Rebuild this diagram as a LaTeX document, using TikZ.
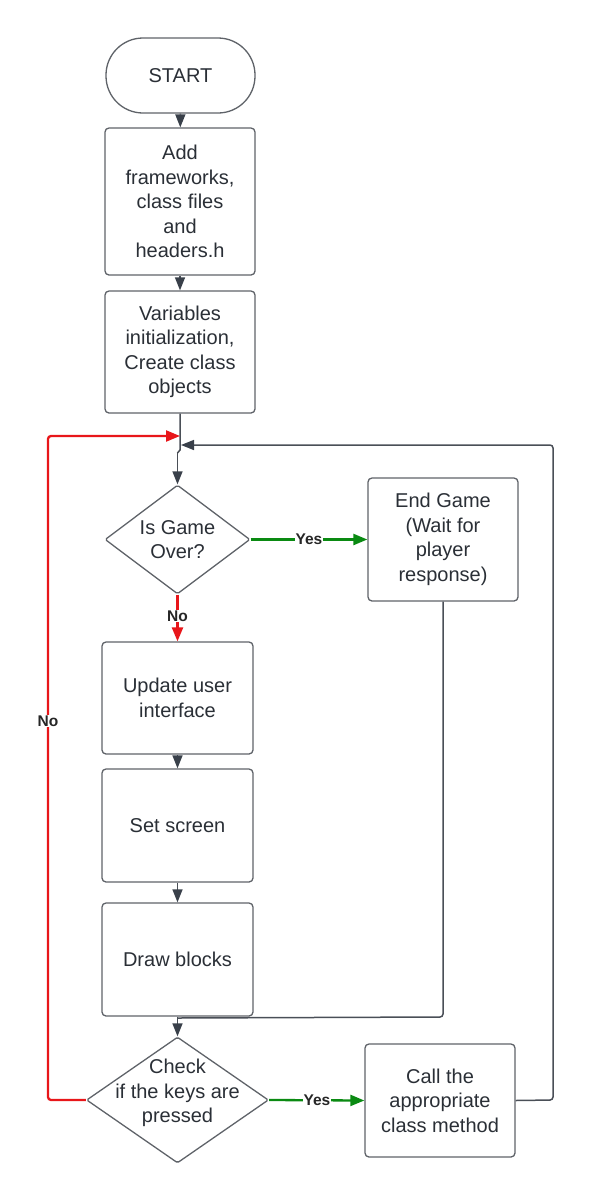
\documentclass[tikz,border=0pt]{standalone}
\usepackage{fontspec}
\setmainfont{Liberation Sans}
\usetikzlibrary{shapes.geometric,arrows.meta}
\definecolor{txt}{HTML}{2A2F36}
\definecolor{edge}{HTML}{5F6369}
\definecolor{lin}{HTML}{4A4F57}
\definecolor{tip}{HTML}{39404A}
\definecolor{myred}{HTML}{E8161A}
\definecolor{mygreen}{HTML}{0A8A12}
\tikzset{
  box/.style={draw=edge, line width=1.3pt, rounded corners=4pt, inner sep=0pt,
    align=center, text=txt, font=\fontsize{20}{24.5}\selectfont},
  dia/.style={draw=edge, line width=1.3pt, shape=diamond, inner sep=0pt, rounded corners=1.5pt},
  dtext/.style={align=center, text=txt, font=\fontsize{20}{24.5}\selectfont, inner sep=0pt},
  conn/.style={draw=lin, line width=1.5pt, -{Triangle[length=13pt,width=10pt,color=tip]}},
  plain/.style={draw=lin, line width=1.5pt},
  redc/.style={draw=myred, line width=2.3pt, -{Triangle[length=14pt,width=11pt]}},
  greenc/.style={draw=mygreen, line width=2.3pt, -{Triangle[length=14pt,width=11pt]}},
  lbl/.style={fill=white, inner sep=1pt, text=black!85, font=\fontsize{15.5}{17}\selectfont\bfseries},
}
\begin{document}
\begin{tikzpicture}[x=1pt,y=-1pt]
\useasboundingbox (0,0) rectangle (591,1203);
% nodes
\node[box, minimum width=149pt, minimum height=75pt, rounded corners=37pt] (start) at (180.5,75.5) {START};
\node[box, minimum width=150pt, minimum height=147pt] (b1) at (180,201.5) {Add\\frameworks,\\class files\\and\\headers.h};
\node[box, minimum width=150pt, minimum height=122pt] (b2) at (180,352) {Variables\\initialization,\\Create class\\objects};
\node[dia, minimum width=145pt, minimum height=109pt] (d1) at (177.5,539.5) {};
\node[dtext] (d1t) at (177.5,539.5) {Is Game\\Over?};
\node[box, minimum width=150pt, minimum height=123pt] (eg) at (443,539.5) {End Game\\(Wait for\\player\\response)};
\node[box, minimum width=151pt, minimum height=112pt] (u) at (177.5,698) {Update user\\interface};
\node[box, minimum width=151pt, minimum height=113pt] (s) at (177.5,825.5) {Set screen};
\node[box, minimum width=151pt, minimum height=113pt] (db) at (177.5,959.5) {Draw blocks};
\node[dia, minimum width=182pt, minimum height=126pt] (d2) at (177.5,1100) {};
\node[dtext] (d2t) at (177.5,1093) {Check\\if the keys are\\pressed};
\node[box, minimum width=150pt, minimum height=113pt] (call) at (440,1100.5) {Call the\\appropriate\\class method};
% merge coordinates
\coordinate (mr) at (180,436);
\coordinate (mg) at (181,445);
\coordinate (mj) at (180,450);
\coordinate (mj2) at (177.5,453);
\coordinate (rl) at (48,1100);
\coordinate (rt) at (48,436);
\coordinate (gr) at (553,1100);
\coordinate (gt) at (553,445);
\coordinate (eb) at (443,1017);
\coordinate (ej) at (178,1018);
% connectors
\draw[conn] (start) -- (b1);
\draw[conn] (b1) -- (b2);
\draw[plain] (b2.south) -- (mj) -- (mj2);
\draw[conn] (mj2) -- (d1.north);
\draw[redc, rounded corners=3pt] (d2.west) -- (rl) -- (rt) -- (mr);
\node[lbl] (nol) at (48,721) {No};
\draw[conn, rounded corners=3pt] (call.east) -- (gr) -- (gt) -- (mg);
\draw[greenc] (d1.east) -- (eg.west);
\node[lbl] (yes1) at (309,539.5) {Yes};
\draw[redc] (d1.south) -- (u.north);
\node[lbl] (no1) at (177.5,616) {No};
\draw[conn] (u) -- (s);
\draw[conn] (s) -- (db);
\draw[conn] (db.south) -- (d2.north);
\draw[plain, rounded corners=3pt] (eg.south) -- (eb) -- (ej);
\draw[greenc] (d2.east) -- (call.west);
\node[lbl] (yes2) at (317,1100) {Yes};
\end{tikzpicture}
\end{document}
